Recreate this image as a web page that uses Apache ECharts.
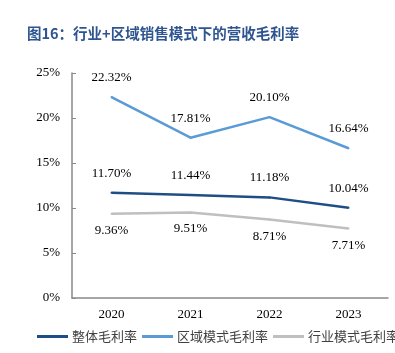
<!DOCTYPE html>
<html>
<head>
<meta charset="utf-8">
<script src="https://cdn.jsdelivr.net/npm/echarts@6/dist/echarts.min.js"></script>
<style>
  html, body { margin: 0; padding: 0; background: #fff; }
  #chart { width: 395px; height: 353px; }
</style>
</head>
<body>
<div id="chart"></div>
<script>
// 年份
var years = ['2020', '2021', '2022', '2023'];
// 毛利率 (%)
var totalMargin = [11.70, 11.44, 11.18, 10.04];
var regionMargin = [22.32, 17.81, 20.10, 16.64];
var industryMargin = [9.36, 9.51, 8.71, 7.71];
var seriesNames = ['整体毛利率', '区域模式毛利率', '行业模式毛利率'];

var serif = 'Liberation Serif';

var myChart = echarts.init(document.getElementById('chart'));

function pct(p) { return p.value.toFixed(2) + '%'; }

var option = {
  animation: false,
  title: {
    text: '图16：行业+区域销售模式下的营收毛利率',
    left: 22,
    top: 21,
    textStyle: {
      fontFamily: 'Noto Sans CJK SC',
      fontSize: 14.5,
      fontWeight: 'bold',
      color: '#2f5590'
    }
  },
  grid: { left: 72, right: 7, top: 73, bottom: 55 },
  legend: {
    data: seriesNames,
    left: 32,
    top: 325,
    width: 700,
    itemWidth: 31,
    itemHeight: 3,
    itemGap: 5,
    icon: 'rect',
    textStyle: {
      fontFamily: 'Noto Sans CJK SC',
      fontSize: 13,
      color: '#404040',
      padding: [0, 0, 0, -1]
    }
  },
  xAxis: {
    type: 'category',
    data: years,
    axisLine: { lineStyle: { color: '#898989', width: 1.5 } },
    axisTick: { show: false },
    axisLabel: { fontFamily: serif, fontSize: 13, color: '#000', margin: 10 }
  },
  yAxis: {
    type: 'value',
    min: 0,
    max: 25,
    interval: 5,
    splitLine: { show: false },
    axisLine: { show: true, lineStyle: { color: '#898989', width: 1.5 } },
    axisTick: { show: true, inside: true, length: 4, lineStyle: { color: '#898989' } },
    axisLabel: {
      fontFamily: serif, fontSize: 13, color: '#000', margin: 12,
      formatter: '{value}%'
    }
  },
  series: [
    {
      name: seriesNames[0], type: 'line', data: totalMargin,
      symbol: 'circle', symbolSize: 2, showSymbol: true,
      lineStyle: { color: '#1f4e86', width: 2.5 },
      itemStyle: { color: '#1f4e86' },
      label: { show: true, position: 'top', distance: 12, formatter: pct,
               fontFamily: serif, fontSize: 13, color: '#000' }
    },
    {
      name: seriesNames[1], type: 'line', data: regionMargin,
      symbol: 'circle', symbolSize: 2, showSymbol: true,
      lineStyle: { color: '#5b9bd5', width: 2.5 },
      itemStyle: { color: '#5b9bd5' },
      label: { show: true, position: 'top', distance: 12, formatter: pct,
               fontFamily: serif, fontSize: 13, color: '#000' }
    },
    {
      name: seriesNames[2], type: 'line', data: industryMargin,
      symbol: 'circle', symbolSize: 2, showSymbol: true,
      lineStyle: { color: '#bfbfbf', width: 2.5 },
      itemStyle: { color: '#bfbfbf' },
      label: { show: true, position: 'bottom', distance: 9, formatter: pct,
               fontFamily: serif, fontSize: 13, color: '#000' }
    }
  ]
};

option && myChart.setOption(option);
</script>
</body>
</html>
